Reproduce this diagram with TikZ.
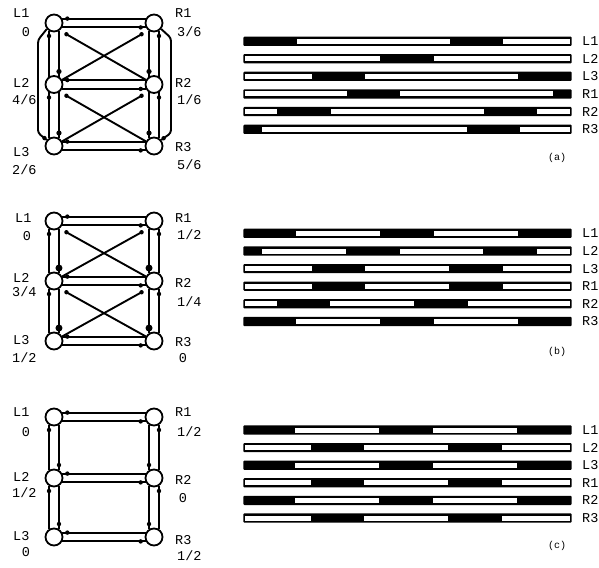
\documentclass[tikz,border=0pt]{standalone}
\usepackage{fontspec}
\setmonofont{Liberation Mono}
\usetikzlibrary{calc,decorations.markings}

\tikzset{
  vtx/.style={circle,draw,line width=1.8pt,minimum size=17pt,inner sep=0pt,fill=white},
  arc/.style={line width=1.9pt},
  mk/.style 2 args={postaction={decorate,decoration={markings,
      mark=at position #1 with {\fill circle (#2);}}}},
  headS/.style={mk={5pt}{#1}}, headS/.default=2.2pt,
  headE/.style={mk={-5pt}{#1}}, headE/.default=2.2pt,
  tag/.style={font=\ttfamily\fontsize{13.5}{13.5}\selectfont,inner sep=0pt},
  tagw/.style={tag,anchor=west},
  panelcap/.style={font=\ttfamily\fontsize{10}{10}\selectfont,inner sep=0pt},
}

% two columns of three vertices, joined by pairs of opposite arcs
% #1 prefix, #2-#4 row heights, #5 head size on the inner uprights
\newcommand\gridgraph[5]{%
  \foreach \k/\yy in {1/#2,2/#3,3/#4}{
    \node[vtx] (#1L\k) at (54,\yy) {};
    \node[vtx] (#1R\k) at (154,\yy) {};
  }
  \foreach \k in {1,2,3}{
    \draw[arc,headS] (#1L\k.28) -- (#1R\k.152);
    \draw[arc,headE] (#1L\k.-28) -- (#1R\k.-152);
  }
  \foreach \k/\m in {1/2,2/3}{
    \draw[arc,headS] (#1L\k.-122) -- (#1L\m.122);
    \draw[arc,headE=#5] (#1L\k.-58) -- (#1L\m.58);
    \draw[arc,headE=#5] (#1R\k.-122) -- (#1R\m.122);
    \draw[arc,headS] (#1R\k.-58) -- (#1R\m.58);
  }
}
% crossing arcs between consecutive rows
\newcommand\crossarcs[1]{%
  \foreach \k/\m in {1/2,2/3}{
    \draw[arc,mk={0.5pt}{2.2pt}] ($(#1L\k)+(12,11)$) -- (#1R\m);
    \draw[arc,mk={0.5pt}{2.2pt}] ($(#1R\k)+(-12,11)$) -- (#1L\m);
  }
}
% one schedule bar: name, height, label, white spans
\newcommand\sbar[4]{%
  \fill[rounded corners=1pt] (243.3,#2-4.6) rectangle (571.7,#2+4.6);
  \foreach \a/\b in {#4}{\fill[white] (\a,#2-2.5) rectangle (\b,#2+2.5);}
  \node[tagw] (#1) at (582,#2) {#3};
}

\begin{document}
\begin{tikzpicture}[x=1pt,y=-1pt]
\useasboundingbox (0,0) rectangle (599,567);

% ---------------- (a)
\gridgraph{a}{23}{84.5}{146}{2.6pt}
\crossarcs{a}
\draw[arc,rounded corners=3pt,mk={-3pt}{2.2pt}] (aL1.-140) -- (38,40) -- (38,133) -- (aL3.140);
\draw[arc,rounded corners=3pt,mk={-3pt}{2.2pt}] (aR1.-40) -- (171,38) -- (171,133) -- (aR3.40);

\node[tagw] (aL1t) at (13,13) {L1};
\node[tag]  (aL1v) at (26,32) {0};
\node[tagw] (aL2t) at (13,83) {L2};
\node[tagw] (aL2v) at (12,100) {4/6};
\node[tagw] (aL3t) at (13,152) {L3};
\node[tagw] (aL3v) at (12,170) {2/6};
\node[tagw] (aR1t) at (175,13) {R1};
\node[tagw] (aR1v) at (177,32) {3/6};
\node[tagw] (aR2t) at (175,83) {R2};
\node[tagw] (aR2v) at (177,100) {1/6};
\node[tagw] (aR3t) at (175,147) {R3};
\node[tagw] (aR3v) at (177,165) {5/6};

\sbar{aB1}{41.3}{L1}{296.7/450,503.3/569.7}
\sbar{aB2}{58.7}{L2}{245.3/380,434/569.7}
\sbar{aB3}{76.3}{L3}{245.3/311.7,365/518.3}
\sbar{aB4}{94}{R1}{245.3/346.7,400/553.3}
\sbar{aB5}{111.6}{R2}{245.3/276.7,331/484,536.7/569.7}
\sbar{aB6}{129.3}{R3}{261.7/466.7,520/569.7}
\node[panelcap] (capa) at (557,158) {(a)};

% ---------------- (b)
\gridgraph{b}{221}{281}{341}{3.5pt}
\crossarcs{b}

\node[tagw] (bL1t) at (15,218) {L1};
\node[tag]  (bL1v) at (27,236) {0};
\node[tagw] (bL2t) at (13,278) {L2};
\node[tagw] (bL2v) at (12,292) {3/4};
\node[tagw] (bL3t) at (13,340) {L3};
\node[tagw] (bL3v) at (12,358) {1/2};
\node[tagw] (bR1t) at (175,218) {R1};
\node[tagw] (bR1v) at (177,235) {1/2};
\node[tagw] (bR2t) at (175,283) {R2};
\node[tagw] (bR2v) at (177,302) {1/4};
\node[tagw] (bR3t) at (175,342) {R3};
\node[tag]  (bR3v) at (183,358) {0};

\sbar{bB1}{233.3}{L1}{296/380,434/518.3}
\sbar{bB2}{251}{L2}{261.7/346,400/483.3,536.7/569.7}
\sbar{bB3}{268.6}{L3}{245.3/311.7,365/449.3,502.7/569.7}
\sbar{bB4}{286.2}{R1}{245.3/311.7,365/449.3,502.7/569.7}
\sbar{bB5}{303.8}{R2}{245.3/276.7,330/414,468.3/569.7}
\sbar{bB6}{321.5}{R3}{296/380,434/518.3}
\node[panelcap] (capb) at (557,352) {(b)};

% ---------------- (c)
\gridgraph{c}{417}{478}{537}{2.2pt}

\node[tagw] (cL1t) at (13,412) {L1};
\node[tag]  (cL1v) at (26,432) {0};
\node[tagw] (cL2t) at (13,477) {L2};
\node[tagw] (cL2v) at (12,493) {1/2};
\node[tagw] (cL3t) at (13,536) {L3};
\node[tag]  (cL3v) at (26,552) {0};
\node[tagw] (cR1t) at (175,412) {R1};
\node[tagw] (cR1v) at (177,432) {1/2};
\node[tagw] (cR2t) at (175,480) {R2};
\node[tag]  (cR2v) at (183,498) {0};
\node[tagw] (cR3t) at (175,540) {R3};
\node[tagw] (cR3v) at (177,556) {1/2};

\sbar{cB1}{430}{L1}{295/379,433.3/517.3}
\sbar{cB2}{447.6}{L2}{245.3/311,364.3/448.3,501.7/569.7}
\sbar{cB3}{465.2}{L3}{295/379,433.3/517.3}
\sbar{cB4}{482.8}{R1}{245.3/311,364.3/448.3,501.7/569.7}
\sbar{cB5}{500.4}{R2}{295/379,433.3/517.3}
\sbar{cB6}{518}{R3}{245.3/311,364.3/448.3,501.7/569.7}
\node[panelcap] (capc) at (557,546) {(c)};
\end{tikzpicture}
\end{document}
